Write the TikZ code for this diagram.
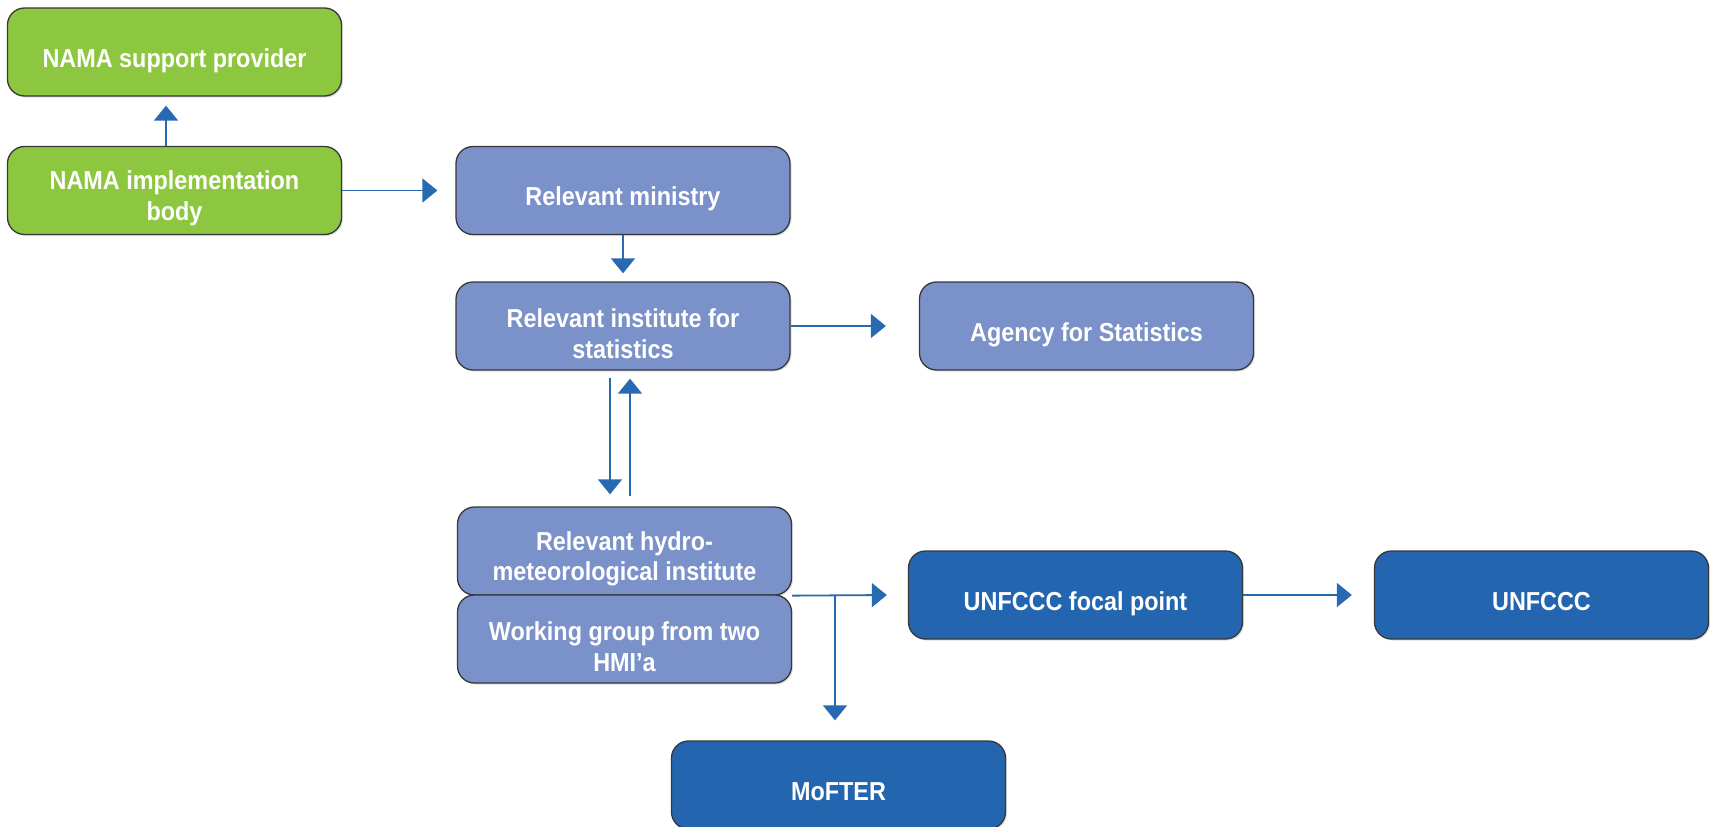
\documentclass[tikz,border=0pt]{standalone}
\usepackage{fontspec}
\setmainfont[FakeStretch=0.9]{Liberation Sans}
\usetikzlibrary{arrows.meta,shadows}
\definecolor{boxgreen}{RGB}{141,198,63}
\definecolor{boxlight}{RGB}{122,146,201}
\definecolor{boxdark}{RGB}{35,102,175}
\definecolor{arrowblue}{RGB}{40,106,178}
\definecolor{edgegray}{RGB}{55,55,60}
\newcommand\firstlinestrut{\rule{0pt}{34pt}}
\tikzset{
  boxbase/.style={rectangle, rounded corners=17pt, draw=edgegray, line width=1.3pt,
    minimum width=334pt, minimum height=88pt, text=white, align=center,
    font=\bfseries\fontsize{26}{30.5}\selectfont,
    drop shadow={shadow xshift=1.5pt, shadow yshift=-1.5pt, opacity=0.25}},
  oneline/.style={execute at begin node={\rule[-7pt]{0pt}{44pt}}},
  greenbox/.style={boxbase, fill=boxgreen},
  lightbox/.style={boxbase, fill=boxlight},
  darkbox/.style={boxbase, fill=boxdark},
  arr/.style={draw=arrowblue, line width=1.8pt, -{Triangle[width=24pt,length=15pt]}, arrowblue}
}
\begin{document}
\begin{tikzpicture}[x=1pt,y=-1pt]
\useasboundingbox (0,0) rectangle (1711,827);
\node[greenbox,oneline] (sup) at (174.5,52) {NAMA support provider};
\node[greenbox] (impl) at (174.5,190.5) {\firstlinestrut NAMA implementation\\body};
\node[lightbox,oneline] (min) at (623,190.5) {Relevant ministry};
\node[lightbox] (inst) at (623,326) {\firstlinestrut Relevant institute for\\statistics};
\node[lightbox,oneline] (agency) at (1086.5,326) {Agency for Statistics};
\node[lightbox] (hydro) at (624.5,551) {\firstlinestrut Relevant hydro-\\meteorological institute};
\node[lightbox] (work) at (624.5,639) {\firstlinestrut Working group from two\\HMI’a};
\node[darkbox,oneline] (focal) at (1075.5,595) {UNFCCC focal point};
\node[darkbox,oneline] (unf) at (1541.5,595) {UNFCCC};
\node[darkbox,oneline] (mof) at (838.5,785) {MoFTER};

\draw[arr] ([xshift=-8.5pt]impl.north) -- ([xshift=-8.5pt,yshift=-9pt]sup.south);
\draw[arr] (impl.east) -- ([xshift=-18pt]min.west);
\draw[arr] (min.south) -- ([yshift=8pt]inst.north);
\draw[arr] (inst.east) -- ([xshift=-33pt]agency.west);
\draw[arr] ([xshift=-13pt,yshift=-7pt]inst.south) -- ([xshift=-14.5pt,yshift=12pt]hydro.north);
\draw[arr] ([xshift=5.5pt,yshift=10pt]hydro.north) -- ([xshift=7pt,yshift=-8pt]inst.south);
\coordinate (j) at (835,595);
\draw[arr] (hydro.south east) -- ([xshift=-21pt]focal.west);
\path (j |- mof.north) coordinate (mtop);
\draw[arr] (j) -- ([yshift=20pt]mtop);
\draw[arr] (focal.east) -- ([xshift=-22pt]unf.west);
\end{tikzpicture}
\end{document}
